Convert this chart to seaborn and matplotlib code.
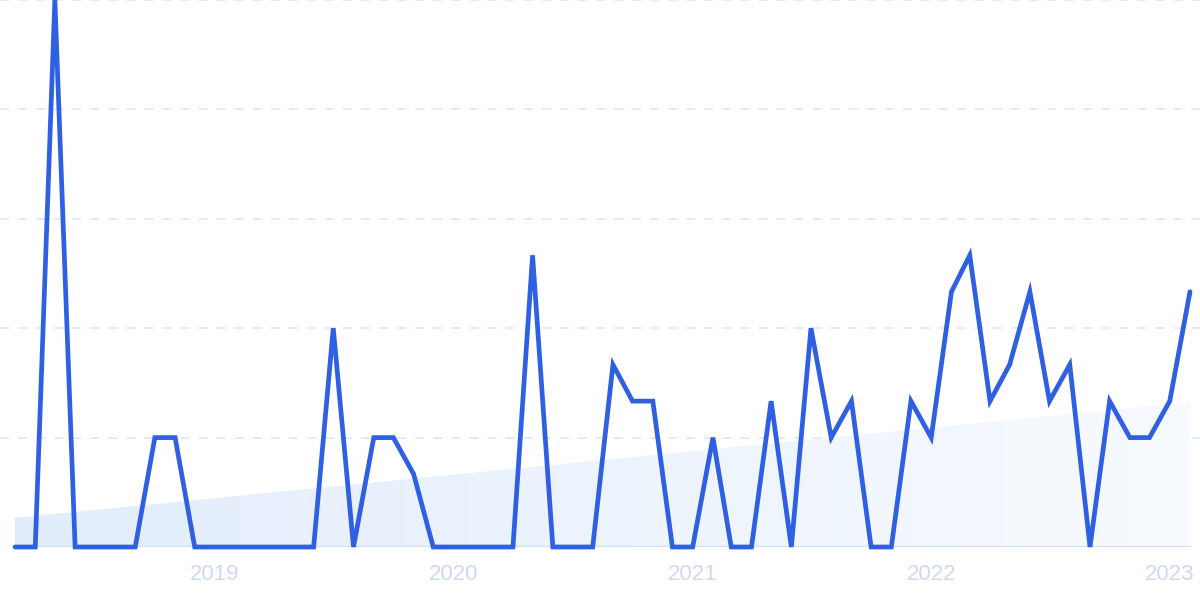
import numpy as np
import pandas as pd
import matplotlib
matplotlib.use("Agg")
import matplotlib.pyplot as plt
import matplotlib.dates as mdates
from matplotlib.colors import LinearSegmentedColormap
import seaborn as sns

# ---- data ----
start_month = "2018-03-01"
end_month = "2023-02-01"
values = [0, 0, 15, 0, 0, 0, 0, 3, 3, 0,
          0, 0, 0, 0, 0, 0, 6, 0, 3, 3,
          2, 0, 0, 0, 0, 0, 8, 0, 0, 0,
          5, 4, 4, 0, 0, 3, 0, 0, 4, 0,
          6, 3, 4, 0, 0, 4, 3, 7, 8, 4,
          5, 7, 4, 5, 0, 4, 3, 3, 4, 7]
trend_values = [0.8, 3.97]
tick_dates = ["2019-01-01", "2020-01-01", "2021-01-01", "2022-01-01", "2023-01-01"]
tick_labels = ["2019", "2020", "2021", "2022", "2023"]
grid_levels = [3, 6, 9, 12, 15]

dates = pd.date_range(start_month, end_month, freq="MS")
df = pd.DataFrame({"date": dates, "value": values})

sns.set_theme(style="white")
plt.rcParams["font.family"] = ["Liberation Sans", "DejaVu Sans"]

W, H = 1200, 599
fig = plt.figure(figsize=(W / 100, H / 100), dpi=100)
ax = fig.add_axes([0, 52 / H, 1, 547 / H])

d0 = mdates.date2num(dates[0])
d1 = mdates.date2num(dates[-1])
pp = (d1 - d0) / (1190 - 15)
ax.set_xlim(d0 - 15 * pp, d1 + 10 * pp)
ax.set_ylim(0, 15)

# gridlines
for g in grid_levels:
    ax.axhline(g, color="#e0e9fb", lw=1.3, ls=(0, (5, 5)), zorder=0, clip_on=False)

# trend area with gradient
tx = [d0, d1]
poly = ax.fill_between(tx, [0, 0], trend_values, color="none", lw=0, zorder=1)
grad = np.linspace(0, 1, 256).reshape(1, -1)
cmap = LinearSegmentedColormap.from_list("g", ["#e2edfb", "#f7fafe"])
im = ax.imshow(grad, cmap=cmap, aspect="auto", extent=[d0, d1, 0, max(trend_values)],
               zorder=1, interpolation="bicubic")
path = poly.get_paths()[0]
im.set_clip_path(path, transform=ax.transData)

# baseline
ax.plot([d0, d1], [0, 0], color="#cfe1f9", lw=1.6, zorder=2)

sns.lineplot(data=df, x="date", y="value", ax=ax, color="#2f5fe3", lw=3.4, zorder=3)
for l in ax.lines[-1:]:
    l.set_clip_on(False)
    l.set_solid_joinstyle("miter")

ax.set_xticks([mdates.date2num(pd.Timestamp(t)) for t in tick_dates])
ax.set_xticklabels(tick_labels, color="#cfd8f6", fontsize=16)
ax.tick_params(axis="x", length=0, pad=12)
ax.set_yticks([])
ax.set_xlabel("")
ax.set_ylabel("")
for s in ax.spines.values():
    s.set_visible(False)
ax.patch.set_alpha(0)

fig.savefig("out.png", dpi=100)
